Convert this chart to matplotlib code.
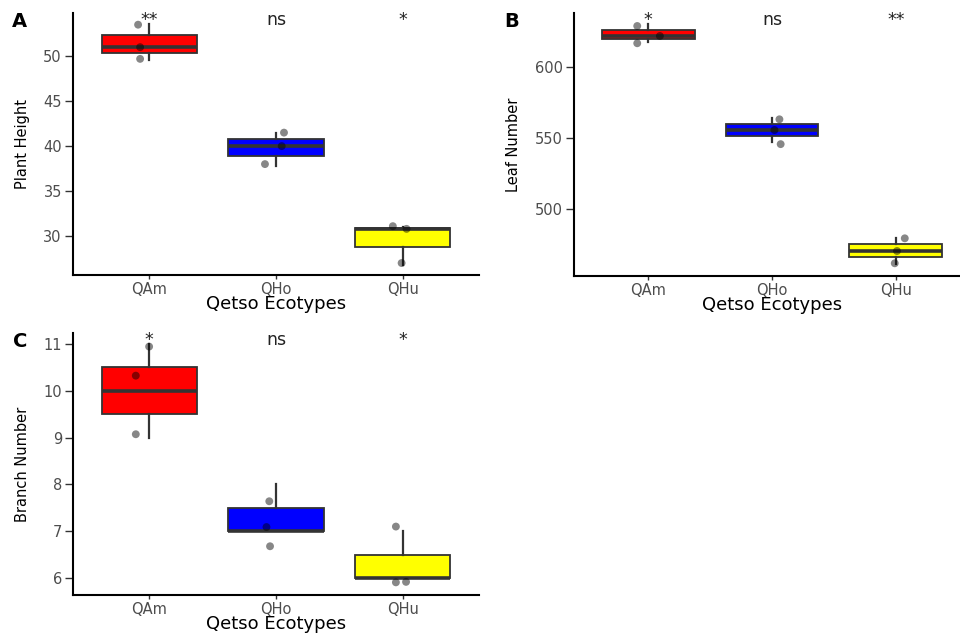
import numpy as np
import matplotlib
matplotlib.use('Agg')
import matplotlib.pyplot as plt

ecotypes = ['QAm', 'QHo', 'QHu']
fill_colors = ['#FF0000', '#0000FF', '#FFFF00']

# values behind the boxes (3 plants per ecotype)
height_box = [[49.6, 51.0, 53.6], [37.8, 40.0, 41.5], [26.8, 30.8, 31.0]]
leaf_box = [[617.5, 621.5, 630.0], [547.0, 555.6, 564.0], [461.7, 471.1, 480.0]]
branch_box = [[9, 10, 11], [7, 7, 8], [6, 6, 7]]

# jittered points as they appear on the plot
height_pts = [[53.5, 49.7, 51.0], [41.5, 38.0, 40.0], [31.1, 30.8, 27.0]]
height_dx = [[-0.087, -0.071, -0.071], [0.063, -0.087, 0.045], [-0.079, 0.029, -0.01]]
leaf_pts = [[628.5, 616.4, 621.5], [563.1, 545.7, 555.6], [479.7, 462.2, 470.8]]
leaf_dx = [[-0.089, -0.089, 0.094], [0.06, 0.07, 0.02], [0.073, -0.008, 0.01]]
branch_pts = [[10.94, 10.32, 9.07], [7.64, 7.09, 6.68], [7.1, 5.91, 5.92]]
branch_dx = [[0.0, -0.105, -0.105], [-0.053, -0.075, -0.047], [-0.055, -0.055, 0.025]]

# significance labels
height_sig = ['**', 'ns', '*']
leaf_sig = ['*', 'ns', '**']
branch_sig = ['*', 'ns', '*']

W, H = 960, 634
fig = plt.figure(figsize=(9.6, 6.34), dpi=100)


def px_axes(left, top, right, bottom):
    return fig.add_axes([left / W, 1 - bottom / H, (right - left) / W, (bottom - top) / H])


def draw_panel(ax, box_data, pts, dx, ylim, yticks, ylabel, sig, letter, letter_xy):
    pos = np.arange(1, len(ecotypes) + 1)
    bp = ax.boxplot(box_data, positions=pos, widths=0.75, whis=(0, 100),
                    patch_artist=True, showcaps=False, showfliers=False,
                    boxprops=dict(edgecolor='#333333', linewidth=1.3),
                    medianprops=dict(color='#333333', linewidth=2.6),
                    whiskerprops=dict(color='#333333', linewidth=1.6))
    for patch, c in zip(bp['boxes'], fill_colors):
        patch.set_facecolor(c)
    for i in range(len(ecotypes)):
        ax.scatter(pos[i] + np.array(dx[i]), pts[i], s=32, color='black',
                   alpha=0.47, edgecolors='none', zorder=4)
        ax.text(pos[i], 0.955, sig[i], transform=ax.get_xaxis_transform(),
                ha='center', va='baseline', fontsize=12.5, color='#222222')
    ax.set_xlim(0.4, 3.6)
    ax.set_ylim(*ylim)
    ax.set_yticks(yticks)
    ax.set_xticks(pos, ecotypes)
    for s in ['top', 'right']:
        ax.spines[s].set_visible(False)
    for s in ['left', 'bottom']:
        ax.spines[s].set_linewidth(1.5)
        ax.spines[s].set_color('black')
    ax.tick_params(axis='both', width=1, color='#333333',
                   labelcolor='#4d4d4d', labelsize=10.5)
    ax.tick_params(axis='x', length=3, pad=2)
    ax.tick_params(axis='y', length=5.5, pad=2.5)
    ax.set_xlabel('Qetso Ecotypes', fontsize=13, va='baseline')
    ax.xaxis.set_label_coords(0.5, -0.13)
    ax.set_ylabel(ylabel, fontsize=10.5, va='center')
    fig.text(letter_xy[0] / W, 1 - letter_xy[1] / H, letter, fontsize=14,
             fontweight='bold', ha='left', va='baseline')


axA = px_axes(73, 13, 479, 275)
draw_panel(axA, height_box, height_pts, height_dx, (25.67, 54.8),
           [30, 35, 40, 45, 50], 'Plant Height', height_sig, 'A', (12, 27))
axA.yaxis.set_label_coords((23 - 73) / 406, 0.5)

axB = px_axes(574, 13, 970, 275.7)
draw_panel(axB, leaf_box, leaf_pts, leaf_dx, (453.5, 637.6),
           [500, 550, 600], 'Leaf Number', leaf_sig, 'B', (504, 27))
axB.yaxis.set_label_coords((513 - 574) / 396, 0.5)

axC = px_axes(73, 333, 479, 595)
draw_panel(axC, branch_box, branch_pts, branch_dx, (5.64, 11.23),
           [6, 7, 8, 9, 10, 11], 'Branch Number', branch_sig, 'C', (13, 347))
axC.yaxis.set_label_coords((23 - 73) / 406, 0.5)

fig.savefig('out.png', dpi=100)
